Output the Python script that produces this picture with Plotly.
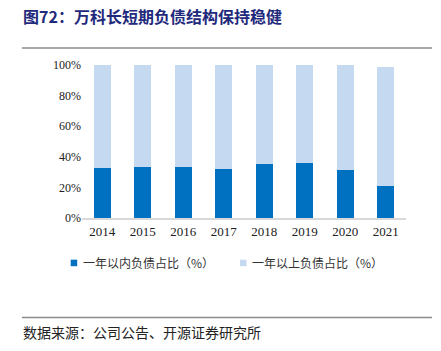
import plotly.graph_objects as go

years = ["2014", "2015", "2016", "2017", "2018", "2019", "2020", "2021"]
short_term = [0.325, 0.332, 0.332, 0.321, 0.354, 0.360, 0.317, 0.210]
long_term = [0.675, 0.668, 0.668, 0.679, 0.646, 0.640, 0.683, 0.777]
series_names = ["一年以内负债占比（%）", "一年以上负债占比（%）"]
series_colors = ["#0070C0", "#C5D9F1"]
y_ticks = [0, 0.2, 0.4, 0.6, 0.8, 1.0]
y_tick_labels = ["0%", "20%", "40%", "60%", "80%", "100%"]

serif = "Liberation Serif, Times New Roman, serif"
cjk = "Noto Sans CJK SC"

# pixel helpers -> paper coords (plot area: x 82..406, y 65..217.7)
L, R, T, B = 82, 406, 65, 217.7
def px(x):
    return (x - L) / (R - L)
def py(y):
    return (B - y) / (B - T)

fig = go.Figure()
fig.add_trace(go.Bar(x=years, y=short_term, name=series_names[0],
                     marker=dict(color=series_colors[0], line=dict(width=0))))
fig.add_trace(go.Bar(x=years, y=long_term, name=series_names[1],
                     marker=dict(color=series_colors[1], line=dict(width=0))))

fig.update_layout(
    barmode="stack",
    bargap=0.59,
    width=441, height=351,
    margin=dict(l=L, r=441 - R, t=T, b=351 - B),
    paper_bgcolor="white", plot_bgcolor="white",
    showlegend=False,
    xaxis=dict(showgrid=False, showline=True, linecolor="#d9d9d9", linewidth=2,
               ticks="", tickfont=dict(family=serif, size=13, color="#222222")),
    yaxis=dict(range=[0, 1.0], tickvals=y_ticks, ticktext=y_tick_labels,
               showgrid=False, zeroline=False, showline=False, ticks="",
               tickfont=dict(family=serif, size=12, color="#222222")),
)

# manual legend
legend_sq_x = [70.7, 240]
legend_txt_x = [81, 250]
for name, color, sx, tx in zip(series_names, series_colors, legend_sq_x, legend_txt_x):
    fig.add_shape(type="rect", xref="paper", yref="paper",
                  x0=px(sx), x1=px(sx + 6.5), y0=py(259.3), y1=py(265.8),
                  fillcolor=color, line=dict(width=0))
    fig.add_annotation(text=name, xref="paper", yref="paper",
                       x=px(tx), y=py(262.5), xanchor="left", yanchor="middle",
                       showarrow=False, font=dict(family=cjk, size=12, color="#333333"))

# title and source
fig.add_annotation(text="<b>图72：万科长短期负债结构保持稳健</b>", xref="paper", yref="paper",
                   x=px(21), y=py(16), xanchor="left", yanchor="middle",
                   showarrow=False, font=dict(family=cjk, size=16, color="#1F2A7C"))
fig.add_annotation(text="数据来源：公司公告、开源证券研究所", xref="paper", yref="paper",
                   x=px(21), y=py(331), xanchor="left", yanchor="middle",
                   showarrow=False, font=dict(family=cjk, size=14, color="#222222"))
for yline in (48, 317):
    fig.add_shape(type="line", xref="paper", yref="paper",
                  x0=px(22), x1=px(432), y0=py(yline), y1=py(yline),
                  line=dict(color="#8c8c8c", width=1.5))

fig.write_html("out.html")
